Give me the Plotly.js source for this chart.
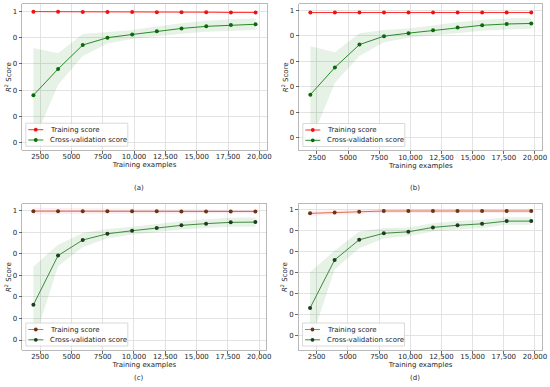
<!DOCTYPE html>
<html>
<head>
<meta charset="utf-8">
<script src="https://cdn.plot.ly/plotly-3.0.1.min.js"></script>
<style>html,body{margin:0;padding:0;background:#fff}#chart{width:550px;height:387px}</style>
</head>
<body>
<div id="chart"></div>
<script>
// ---------------- data ----------------
const trainSizes = [1970, 3940, 5910, 7880, 9850, 11820, 13790, 15760, 17730, 19700];

const trainA    = [0.999, 0.999, 0.998, 0.998, 0.998, 0.997, 0.997, 0.997, 0.996, 0.996];
const trainStdA = [0.001, 0.001, 0.001, 0.001, 0.001, 0.001, 0.001, 0.001, 0.001, 0.001];
const cvA       = [0.681, 0.781, 0.872, 0.900, 0.912, 0.924, 0.935, 0.943, 0.948, 0.951];
const cvStdA    = [0.180, 0.060, 0.042, 0.022, 0.017, 0.018, 0.020, 0.021, 0.022, 0.022];

const trainB    = [0.992, 0.992, 0.992, 0.992, 0.992, 0.992, 0.992, 0.992, 0.992, 0.992];
const trainStdB = [0.001, 0.001, 0.001, 0.001, 0.001, 0.001, 0.001, 0.001, 0.001, 0.001];
const cvB       = [0.669, 0.776, 0.866, 0.899, 0.911, 0.922, 0.933, 0.942, 0.947, 0.949];
const cvStdB    = [0.190, 0.060, 0.045, 0.024, 0.018, 0.020, 0.021, 0.022, 0.022, 0.022];

const trainC    = [0.998, 0.998, 0.998, 0.997, 0.997, 0.997, 0.996, 0.996, 0.996, 0.996];
const trainStdC = [0.016, 0.015, 0.013, 0.012, 0.011, 0.010, 0.009, 0.009, 0.008, 0.008];
const cvC       = [0.563, 0.792, 0.864, 0.893, 0.907, 0.920, 0.932, 0.940, 0.946, 0.947];
const cvStdC    = [0.178, 0.050, 0.032, 0.022, 0.018, 0.018, 0.019, 0.020, 0.021, 0.022];

const trainD    = [0.981, 0.985, 0.989, 0.992, 0.992, 0.992, 0.992, 0.992, 0.992, 0.992];
const trainStdD = [0.012, 0.011, 0.010, 0.010, 0.010, 0.010, 0.010, 0.010, 0.010, 0.010];
const cvD       = [0.530, 0.759, 0.855, 0.886, 0.893, 0.914, 0.924, 0.931, 0.944, 0.944];
const cvStdD    = [0.170, 0.045, 0.040, 0.025, 0.020, 0.020, 0.020, 0.020, 0.018, 0.018];

const xTickVals = [2500, 5000, 7500, 10000, 12500, 15000, 17500, 20000];
const xTickText = ["2500", "5000", "7500", "10,000", "12,500", "15,000", "17,500", "20,000"];
const yTickVals6 = [0.5, 0.6, 0.7, 0.8, 0.9, 1.0];
const yTickText6 = ["0", "0", "0", "0", "0", "1"];
const yTickVals7 = [0.4, 0.5, 0.6, 0.7, 0.8, 0.9, 1.0];
const yTickText7 = ["0", "0", "0", "0", "0", "0", "1"];
const captions = ["(a)", "(b)", "(c)", "(d)"];
const seriesNames = ["Training score", "Cross-validation score"];

// ---------------- layout helpers ----------------
const W = 550, H = 387;
const px = x => x / W;
const py = y => 1 - y / H;
const FONT = "DejaVu Sans, sans-serif";
const TXT = "#262626";

const panels = [
  {box: [22.3, 4, 266.7, 150.2], yr: [0.472, 1.028], tv: yTickVals6, tt: yTickText6, capY: 188.3,
   tr: trainA, trs: trainStdA, cv: cvA, cvs: cvStdA,
   trLine: "#ff2a2a", trMark: "#ee1111", cvLine: "#2a8a2a", cvMark: "#0a6a0a", trBand: "rgba(255,0,0,0.10)"},
  {box: [299.3, 4, 542.3, 150.5], yr: [0.4496, 1.0256], tv: yTickVals6, tt: yTickText6, capY: 188.3,
   tr: trainB, trs: trainStdB, cv: cvB, cvs: cvStdB,
   trLine: "#ff2a2a", trMark: "#ee1111", cvLine: "#2a8a2a", cvMark: "#0a6a0a", trBand: "rgba(255,0,0,0.10)"},
  {box: [22.3, 204.3, 266.5, 350], yr: [0.3536, 1.0297], tv: yTickVals7, tt: yTickText7, capY: 377.7,
   tr: trainC, trs: trainStdC, cv: cvC, cvs: cvStdC,
   trLine: "#d86f45", trMark: "#6b3414", cvLine: "#3f8a3f", cvMark: "#1d3d1d", trBand: "rgba(255,60,100,0.09)"},
  {box: [299, 204.3, 542.3, 350], yr: [0.33, 1.024], tv: yTickVals7, tt: yTickText7, capY: 377.7,
   tr: trainD, trs: trainStdD, cv: cvD, cvs: cvStdD,
   trLine: "#d86f45", trMark: "#6b3414", cvLine: "#3f8a3f", cvMark: "#1d3d1d", trBand: "rgba(255,60,100,0.09)"}
];

const traces = [];
const layout = {
  width: W, height: H,
  margin: {l: 0, r: 0, t: 0, b: 0},
  paper_bgcolor: "#fff", plot_bgcolor: "#fff",
  showlegend: false,
  font: {family: FONT, size: 7, color: TXT},
  shapes: [], annotations: []
};

panels.forEach((p, i) => {
  const n = i + 1;
  const xa = n === 1 ? "x" : "x" + n, ya = n === 1 ? "y" : "y" + n;
  const xk = n === 1 ? "xaxis" : "xaxis" + n, yk = n === 1 ? "yaxis" : "yaxis" + n;
  const [l, t, r, b] = p.box;
  layout[xk] = {
    domain: [px(l), px(r)], anchor: ya, range: [1083.5, 20586.5],
    tickmode: "array", tickvals: xTickVals, ticktext: xTickText,
    ticks: "outside", ticklen: 3, tickwidth: 0.8, tickcolor: "#444",
    ticklabelstandoff: -3,
    tickfont: {size: 7, color: TXT, family: FONT},
    showgrid: true, gridcolor: "#dcdcdc", gridwidth: 0.8,
    showline: true, mirror: true, linecolor: "#a8a8a8", linewidth: 0.8,
    zeroline: false,
    title: {text: "Training examples", font: {size: 7, color: TXT, family: FONT}, standoff: 0}
  };
  layout[yk] = {
    domain: [py(b), py(t)], anchor: xa, range: p.yr,
    tickmode: "array", tickvals: p.tv, ticktext: p.tt,
    ticks: "outside", ticklen: 3, tickwidth: 0.8, tickcolor: "#444",
    tickfont: {size: 7, color: TXT, family: FONT},
    showgrid: true, gridcolor: "#dcdcdc", gridwidth: 0.8,
    showline: true, mirror: true, linecolor: "#a8a8a8", linewidth: 0.8,
    zeroline: false,
    title: {text: "<i>R</i><sup>2</sup> Score", font: {size: 7, color: TXT, family: FONT}, standoff: 0}
  };
  const up = (m, s) => m.map((v, k) => v + s[k]);
  const lo = (m, s) => m.map((v, k) => v - s[k]);
  // bands
  traces.push({x: trainSizes, y: up(p.tr, p.trs), xaxis: xa, yaxis: ya, mode: "lines", line: {width: 0}, hoverinfo: "skip", showlegend: false});
  traces.push({x: trainSizes, y: lo(p.tr, p.trs), xaxis: xa, yaxis: ya, mode: "lines", line: {width: 0}, fill: "tonexty", fillcolor: p.trBand, hoverinfo: "skip", showlegend: false});
  traces.push({x: trainSizes, y: up(p.cv, p.cvs), xaxis: xa, yaxis: ya, mode: "lines", line: {width: 0}, hoverinfo: "skip", showlegend: false});
  traces.push({x: trainSizes, y: lo(p.cv, p.cvs), xaxis: xa, yaxis: ya, mode: "lines", line: {width: 0}, fill: "tonexty", fillcolor: "rgba(0,128,0,0.10)", hoverinfo: "skip", showlegend: false});
  // lines
  traces.push({x: trainSizes, y: p.tr, xaxis: xa, yaxis: ya, name: seriesNames[0], mode: "lines+markers",
    line: {color: p.trLine, width: 1}, marker: {color: p.trMark, size: 4}});
  traces.push({x: trainSizes, y: p.cv, xaxis: xa, yaxis: ya, name: seriesNames[1], mode: "lines+markers",
    line: {color: p.cvLine, width: 1}, marker: {color: p.cvMark, size: 4}});

  // custom legend
  const bx0 = l + 3.5, bx1 = l + 105.5, by0 = b - 27, by1 = b - 4;
  layout.shapes.push({type: "rect", xref: "paper", yref: "paper", x0: px(bx0), x1: px(bx1), y0: py(by1), y1: py(by0),
    line: {color: "#d0d0d0", width: 0.8}, fillcolor: "rgba(255,255,255,0.8)", layer: "above"});
  const rows = [
    {y: b - 20.5, line: p.trLine, mark: p.trMark, text: seriesNames[0]},
    {y: b - 10.2, line: p.cvLine, mark: p.cvMark, text: seriesNames[1]}
  ];
  rows.forEach(rw => {
    layout.shapes.push({type: "line", xref: "paper", yref: "paper", x0: px(l + 6), x1: px(l + 21), y0: py(rw.y), y1: py(rw.y),
      line: {color: rw.line, width: 1}, layer: "above"});
    layout.shapes.push({type: "circle", xref: "paper", yref: "paper", x0: px(l + 11.6), x1: px(l + 15.4), y0: py(rw.y + 1.9), y1: py(rw.y - 1.9),
      line: {width: 0}, fillcolor: rw.mark, layer: "above"});
    layout.annotations.push({xref: "paper", yref: "paper", x: px(l + 25.5), y: py(rw.y), xanchor: "left", yanchor: "middle",
      showarrow: false, text: rw.text, font: {size: 7, color: TXT, family: FONT}});
  });
  // caption
  layout.annotations.push({xref: "paper", yref: "paper", x: px((l + r) / 2 - 5.5), y: py(p.capY), xanchor: "center", yanchor: "middle",
    showarrow: false, text: captions[i], font: {size: 7, color: TXT, family: FONT}});
});

Plotly.newPlot("chart", traces, layout, {staticPlot: true, displayModeBar: false});
</script>
</body>
</html>
